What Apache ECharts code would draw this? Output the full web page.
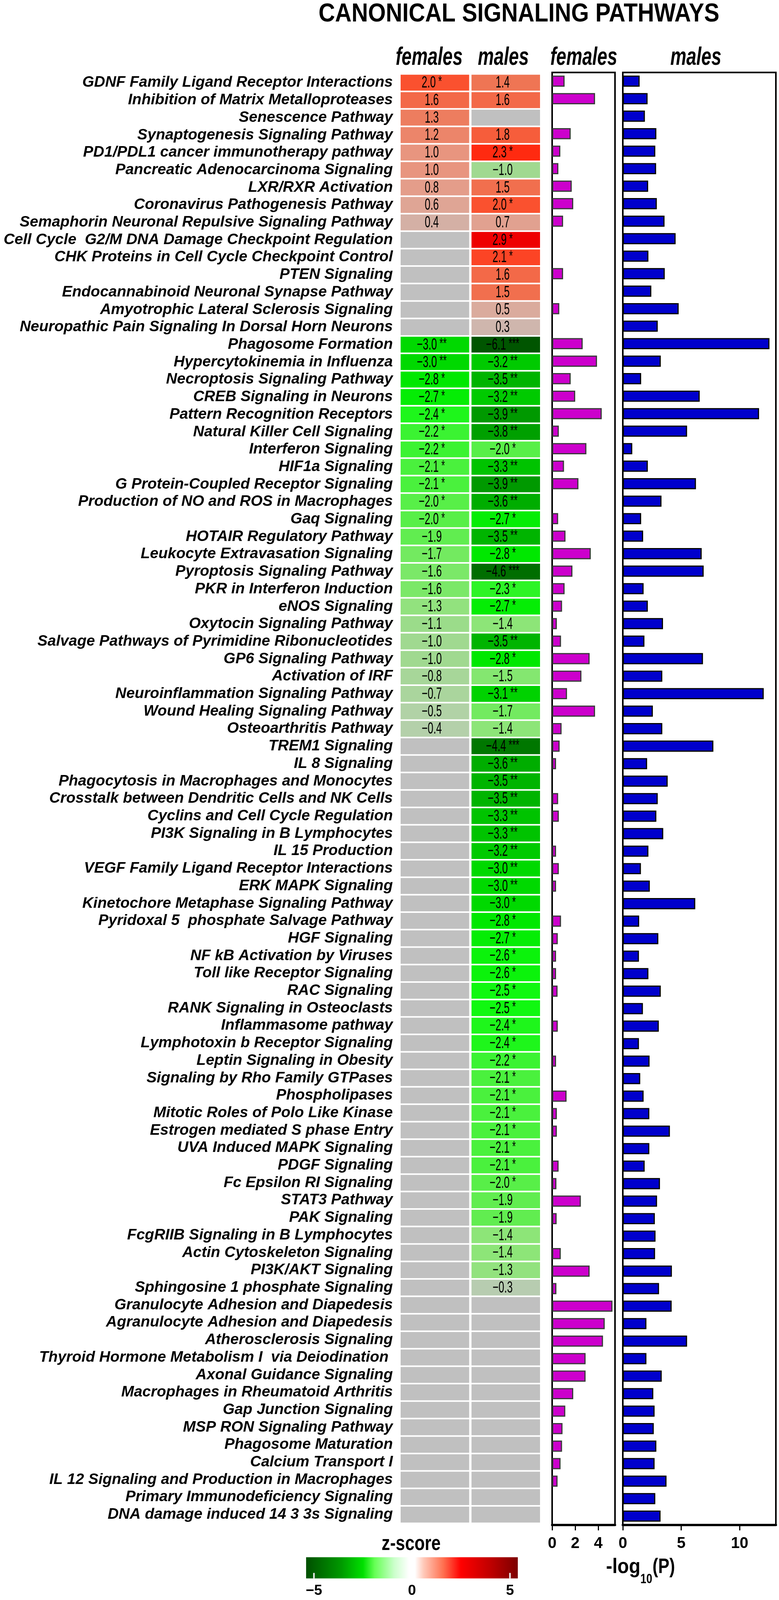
<!DOCTYPE html>
<html><head><meta charset="utf-8">
<script src="https://cdn.jsdelivr.net/npm/echarts@6/dist/echarts.min.js"></script>
<style>html,body{margin:0;padding:0;background:#fff;overflow:hidden}#c{width:1995px;height:4153px}</style>
</head><body><div id="c"></div>
<script>
const categories = [
"GDNF Family Ligand Receptor Interactions",
"Inhibition of Matrix Metalloproteases",
"Senescence Pathway",
"Synaptogenesis Signaling Pathway",
"PD1/PDL1 cancer immunotherapy pathway",
"Pancreatic Adenocarcinoma Signaling",
"LXR/RXR Activation",
"Coronavirus Pathogenesis Pathway",
"Semaphorin Neuronal Repulsive Signaling Pathway",
"Cell Cycle  G2/M DNA Damage Checkpoint Regulation",
"CHK Proteins in Cell Cycle Checkpoint Control",
"PTEN Signaling",
"Endocannabinoid Neuronal Synapse Pathway",
"Amyotrophic Lateral Sclerosis Signaling",
"Neuropathic Pain Signaling In Dorsal Horn Neurons",
"Phagosome Formation",
"Hypercytokinemia in Influenza",
"Necroptosis Signaling Pathway",
"CREB Signaling in Neurons",
"Pattern Recognition Receptors",
"Natural Killer Cell Signaling",
"Interferon Signaling",
"HIF1a Signaling",
"G Protein-Coupled Receptor Signaling",
"Production of NO and ROS in Macrophages",
"Gaq Signaling",
"HOTAIR Regulatory Pathway",
"Leukocyte Extravasation Signaling",
"Pyroptosis Signaling Pathway",
"PKR in Interferon Induction",
"eNOS Signaling",
"Oxytocin Signaling Pathway",
"Salvage Pathways of Pyrimidine Ribonucleotides",
"GP6 Signaling Pathway",
"Activation of IRF",
"Neuroinflammation Signaling Pathway",
"Wound Healing Signaling Pathway",
"Osteoarthritis Pathway",
"TREM1 Signaling",
"IL 8 Signaling",
"Phagocytosis in Macrophages and Monocytes",
"Crosstalk between Dendritic Cells and NK Cells",
"Cyclins and Cell Cycle Regulation",
"PI3K Signaling in B Lymphocytes",
"IL 15 Production",
"VEGF Family Ligand Receptor Interactions",
"ERK MAPK Signaling",
"Kinetochore Metaphase Signaling Pathway",
"Pyridoxal 5  phosphate Salvage Pathway",
"HGF Signaling",
"NF kB Activation by Viruses",
"Toll like Receptor Signaling",
"RAC Signaling",
"RANK Signaling in Osteoclasts",
"Inflammasome pathway",
"Lymphotoxin b Receptor Signaling",
"Leptin Signaling in Obesity",
"Signaling by Rho Family GTPases",
"Phospholipases",
"Mitotic Roles of Polo Like Kinase",
"Estrogen mediated S phase Entry",
"UVA Induced MAPK Signaling",
"PDGF Signaling",
"Fc Epsilon RI Signaling",
"STAT3 Pathway",
"PAK Signaling",
"FcgRIIB Signaling in B Lymphocytes",
"Actin Cytoskeleton Signaling",
"PI3K/AKT Signaling",
"Sphingosine 1 phosphate Signaling",
"Granulocyte Adhesion and Diapedesis",
"Agranulocyte Adhesion and Diapedesis",
"Atherosclerosis Signaling",
"Thyroid Hormone Metabolism I  via Deiodination ",
"Axonal Guidance Signaling",
"Macrophages in Rheumatoid Arthritis",
"Gap Junction Signaling",
"MSP RON Signaling Pathway",
"Phagosome Maturation",
"Calcium Transport I",
"IL 12 Signaling and Production in Macrophages",
"Primary Immunodeficiency Signaling",
"DNA damage induced 14 3 3s Signaling"
];

const columns = ["females", "males"];

const femaleZ = [
2.0, 1.6, 1.3, 1.2, 1.0, 1.0, 0.8, 0.6, 0.4, null, null, null, null, null, null,
-3.0, -3.0, -2.8, -2.7, -2.4, -2.2, -2.2, -2.1, -2.1, -2.0, -2.0, -1.9, -1.7, -1.6, -1.6, -1.3, -1.1, -1.0, -1.0, -0.8, -0.7, -0.5, -0.4,
null, null, null, null, null, null, null, null, null, null, null, null, null, null, null, null,
null, null, null, null, null, null, null, null, null, null, null, null, null, null, null, null,
null, null, null, null, null, null, null, null, null, null, null, null, null
];
const femaleStars = [
1,0,0,0,0,0,0,0,0,0,0,0,0,0,0,
2,2,1,1,1,1,1,1,1,1,1,0,0,0,0,0,0,0,0,0,0,0,0,
0,0,0,0,0,0,0,0,0,0,0,0,0,0,0,0,
0,0,0,0,0,0,0,0,0,0,0,0,0,0,0,0,
0,0,0,0,0,0,0,0,0,0,0,0,0
];
const maleZ = [
1.4, 1.6, null, 1.8, 2.3, -1.0, 1.5, 2.0, 0.7, 2.9, 2.1, 1.6, 1.5, 0.5, 0.3,
-6.1, -3.2, -3.5, -3.2, -3.9, -3.8, -2.0, -3.3, -3.9, -3.6, -2.7, -3.5, -2.8, -4.6, -2.3, -2.7, -1.4, -3.5, -2.8, -1.5, -3.1, -1.7, -1.4,
-4.4, -3.6, -3.5, -3.5, -3.3, -3.3, -3.2, -3.0, -3.0, -3.0, -2.8, -2.7, -2.6, -2.6, -2.5, -2.5,
-2.4, -2.4, -2.2, -2.1, -2.1, -2.1, -2.1, -2.1, -2.1, -2.0, -1.9, -1.9, -1.4, -1.4, -1.3, -0.3,
null, null, null, null, null, null, null, null, null, null, null, null, null
];
const maleStars = [
0,0,0,0,1,0,0,1,0,1,1,0,0,0,0,
3,2,2,2,2,2,1,2,2,2,1,2,1,3,1,1,0,2,1,0,2,0,0,
3,2,2,2,2,2,2,2,2,1,1,1,1,1,1,1,
1,1,1,1,1,1,1,1,1,1,0,0,0,0,0,0,
0,0,0,0,0,0,0,0,0,0,0,0,0
];

const femaleLogP = [
1.08, 3.72, null, 1.61, 0.71, 0.54, 1.70, 1.83, 0.95, null, null, 0.95, null, 0.62, null,
2.65, 3.89, 1.61, 2.00, 4.30, 0.58, 2.97, 1.03, 2.28, null, 0.52, 1.16, 3.35, 1.76, 1.08, 0.86, 0.41, 0.77, 3.25, 2.54, 1.29, 3.72, 0.82,
0.65, 0.34, null, 0.52, 0.58, null, 0.34, 0.58, 0.34, null, 0.77, 0.49, 0.34, 0.34, 0.47, null,
0.49, null, 0.34, null, 1.25, 0.41, 0.41, null, 0.56, 0.37, 2.49, 0.39, null, 0.75, 3.25, 0.37,
5.23, 4.56, 4.41, 2.90, 2.90, 1.83, 1.14, 0.90, 0.86, 0.73, 0.47, null, null
];
const maleLogP = [
1.44, 2.12, 1.89, 2.87, 2.78, 2.85, 2.17, 2.91, 3.57, 4.52, 2.19, 3.59, 2.44, 4.78, 2.99,
12.55, 3.25, 1.57, 6.58, 11.66, 5.50, 0.81, 2.14, 6.26, 3.31, 1.57, 1.74, 6.75, 6.92, 1.78, 2.14, 3.44, 1.85, 6.86, 3.38, 12.06, 2.57, 3.38,
7.75, 2.08, 3.84, 2.99, 2.87, 3.46, 2.19, 1.55, 2.31, 6.20, 1.40, 3.04, 1.38, 2.19, 3.25, 1.72,
3.08, 1.38, 2.29, 1.49, 1.78, 2.27, 4.03, 2.27, 1.87, 3.18, 2.93, 2.74, 2.80, 2.76, 4.20, 3.10,
4.18, 2.02, 5.50, 2.02, 3.33, 2.61, 2.72, 2.65, 2.87, 2.72, 3.74, 2.78, 3.23
];

const femaleTicks = [0, 2, 4];
const maleTicks = [0, 5, 10];
const zTicks = [-5, 0, 5];
const zBarRange = [-5.4, 5.4];

const SANS = '"Liberation Sans", Arial, Helvetica, sans-serif';

// fit the 4153px-tall design into the actual viewport height
const VH = window.innerHeight || 4153;
const sy = Math.min(1, VH / 4153);
const Y = v => v * sy;
document.getElementById('c').style.height = VH + 'px';

// cell colour scale (style)
const zStops = [
  [-6.1, [0, 85, 0]], [-4.5, [0, 112, 0]], [-3.5, [0, 180, 0]], [-2.8, [0, 232, 0]],
  [-2.5, [16, 248, 16]], [-2.0, [88, 239, 72]], [-1.4, [141, 229, 120]], [-1.0, [160, 217, 144]],
  [-0.4, [180, 208, 170]], [0, [192, 192, 192]], [0.3, [207, 182, 173]], [0.6, [223, 165, 149]],
  [1.0, [232, 149, 127]], [1.4, [239, 117, 84]], [2.0, [250, 81, 47]], [2.3, [255, 42, 16]], [2.9, [238, 0, 0]]
];
function zColor(z) {
  if (z <= zStops[0][0]) return 'rgb(' + zStops[0][1].join(',') + ')';
  for (let i = 1; i < zStops.length; i++) {
    if (z <= zStops[i][0]) {
      const a = zStops[i - 1], b = zStops[i];
      const t = (z - a[0]) / (b[0] - a[0]);
      const c = a[1].map((v, k) => Math.round(v + (b[1][k] - v) * t));
      return 'rgb(' + c.join(',') + ')';
    }
  }
  return 'rgb(' + zStops[zStops.length - 1][1].join(',') + ')';
}
function fmt(z) {
  const s = Math.abs(z).toFixed(1);
  return z < 0 ? '\u2212' + s : s;
}

const cellData = [];
categories.forEach((name, r) => { cellData.push([0, r]); cellData.push([1, r]); });

const chart = echarts.init(document.getElementById('c'), null, { renderer: 'canvas' });

const rowTop = Y(192), rowH = Y(3762);
const barTop = Y(188), barH = Y(3770);

function txt(text, x, y, size, opts) {
  return Object.assign({ type: 'text', x: x, y: Y(y), scaleX: 1,
    style: { text: text, fontSize: size, fontWeight: 'bold', fontFamily: SANS, fill: '#000', align: 'center', verticalAlign: 'middle' } }, opts || {});
}
function styled(el, extra) { Object.assign(el.style, extra); return el; }

const option = {
  animation: false,
  backgroundColor: '#fff',
  grid: [
    { left: 1023, top: rowTop, width: 363, height: rowH },
    { left: 1414, top: barTop, width: 161, height: barH, show: true, borderColor: '#000', borderWidth: 4, backgroundColor: 'transparent' },
    { left: 1595, top: barTop, width: 392, height: barH, show: true, borderColor: '#000', borderWidth: 4, backgroundColor: 'transparent' },
    { left: 804, top: Y(4042), width: 502, height: Y(55) }
  ],
  xAxis: [
    { gridIndex: 0, type: 'category', data: columns, show: false },
    { gridIndex: 1, type: 'value', min: 0, max: 5.45, interval: 2, position: 'bottom',
      axisLine: { show: true, onZero: false, lineStyle: { color: '#000', width: 6 } },
      axisTick: { show: true, length: 14, lineStyle: { color: '#000', width: 3 }, customValues: femaleTicks },
      axisLabel: { customValues: femaleTicks, fontSize: 40, fontWeight: 'bold', fontFamily: SANS, color: '#000', margin: 28,
        formatter: v => (femaleTicks.indexOf(v) >= 0 ? String(v) : '') },
      splitLine: { show: false } },
    { gridIndex: 2, type: 'value', min: 0, max: 13.1, interval: 5, position: 'bottom',
      axisLine: { show: true, onZero: false, lineStyle: { color: '#000', width: 6 } },
      axisTick: { show: true, length: 14, lineStyle: { color: '#000', width: 3 }, customValues: maleTicks },
      axisLabel: { customValues: maleTicks, fontSize: 40, fontWeight: 'bold', fontFamily: SANS, color: '#000', margin: 28,
        formatter: v => (maleTicks.indexOf(v) >= 0 ? String(v) : '') },
      splitLine: { show: false } },
    { gridIndex: 3, type: 'value', min: zTicks[0], max: zTicks[2], interval: 5,
      axisLine: { show: false }, axisTick: { show: false }, splitLine: { show: false },
      axisLabel: { fontSize: 37, fontWeight: 'bold', fontFamily: SANS, color: '#000', margin: 14,
        formatter: v => (v < 0 ? '\u2212' + Math.abs(v) : String(v)) } }
  ],
  yAxis: [
    { gridIndex: 0, type: 'category', data: categories, inverse: true,
      axisLine: { show: false }, axisTick: { show: false },
      axisLabel: { interval: 0, fontSize: 39, fontWeight: 'bold', fontStyle: 'italic', fontFamily: SANS, color: '#000', margin: 17 } },
    { gridIndex: 1, type: 'category', data: categories, inverse: true, axisLine: { show: false }, axisTick: { show: false }, axisLabel: { show: false } },
    { gridIndex: 2, type: 'category', data: categories, inverse: true, axisLine: { show: false }, axisTick: { show: false }, axisLabel: { show: false } },
    { gridIndex: 3, type: 'value', min: 0, max: 1, show: false }
  ],
  series: [
    {
      type: 'custom', xAxisIndex: 0, yAxisIndex: 0, data: cellData,
      encode: { x: 0, y: 1 },
      renderItem: function (params, api) {
        const c = api.value(0), r = api.value(1);
        const z = (c === 0 ? femaleZ : maleZ)[r];
        const st = (c === 0 ? femaleStars : maleStars)[r];
        const p = api.coord([c, r]);
        const s = api.size([1, 1]);
        const w = s[0] - 6, h = s[1] - 4;
        const children = [{
          type: 'rect',
          shape: { x: p[0] - w / 2, y: p[1] - h / 2, width: w, height: h },
          style: { fill: z == null ? '#c0c0c0' : zColor(z) }
        }];
        if (z != null) {
          let t = '{n|' + fmt(z) + '}';
          if (st > 0) t += '{s| ' + '*'.repeat(st) + '}';
          children.push({
            type: 'text', x: p[0] - 8, y: p[1] + 1, scaleX: 0.62, scaleY: 1,
            style: {
              text: t, x: 0, y: 0, align: 'center', verticalAlign: 'middle',
              fill: '#000',
              rich: {
                n: { fontSize: 42, fontFamily: SANS, fill: '#000' },
                s: { fontSize: 38, fontFamily: SANS, fill: '#000', verticalAlign: 'top' }
              }
            }
          });
        }
        return { type: 'group', children: children };
      }
    },
    {
      type: 'bar', xAxisIndex: 1, yAxisIndex: 1, data: femaleLogP, barWidth: Y(29),
      itemStyle: { color: '#cc00cc', borderColor: '#3a3a3a', borderWidth: 3 }
    },
    {
      type: 'bar', xAxisIndex: 2, yAxisIndex: 2, data: maleLogP, barWidth: Y(29),
      itemStyle: { color: '#0000cc', borderColor: '#000', borderWidth: 3 }
    },
    {
      type: 'custom', xAxisIndex: 3, yAxisIndex: 3, data: [[zBarRange[0], zBarRange[1]]],
      clip: false,
      renderItem: function (params, api) {
        const p0 = api.coord([api.value(0), 1]);
        const p1 = api.coord([api.value(1), 0]);
        const tL = api.coord([zTicks[0], 0]);
        const tR = api.coord([zTicks[2], 0]);
        const th = (p1[1] - p0[1]) * 0.26;
        return {
          type: 'group',
          children: [
            {
              type: 'rect',
              shape: { x: p0[0], y: p0[1], width: p1[0] - p0[0], height: p1[1] - p0[1] },
              style: {
                fill: new echarts.graphic.LinearGradient(0, 0, 1, 0, [
                  { offset: 0, color: '#004f00' }, { offset: 0.167, color: '#009a00' },
                  { offset: 0.269, color: '#00e000' }, { offset: 0.324, color: '#66ff55' },
                  { offset: 0.417, color: '#ccffcc' }, { offset: 0.486, color: '#ffffff' },
                  { offset: 0.514, color: '#ffffff' }, { offset: 0.556, color: '#ffc8b8' },
                  { offset: 0.648, color: '#ff7050' }, { offset: 0.731, color: '#ff0000' },
                  { offset: 0.87, color: '#c00000' }, { offset: 1, color: '#7c0000' }
                ])
              }
            },
            { type: 'rect', shape: { x: tL[0] - 2, y: tL[1] - th, width: 4, height: th }, style: { fill: '#e8e8e8' } },
            { type: 'rect', shape: { x: tR[0] - 2, y: tR[1] - th, width: 4, height: th }, style: { fill: '#e8e8e8' } }
          ]
        };
      }
    }
  ],
  graphic: [
    txt('CANONICAL SIGNALING PATHWAYS', 1329, 37, 66, { scaleX: 0.887 }),
    styled(txt(columns[0], 1099, 150, 64, { scaleX: 0.72 }), { fontStyle: 'italic' }),
    styled(txt(columns[1], 1289, 150, 64, { scaleX: 0.72 }), { fontStyle: 'italic' }),
    styled(txt(columns[0], 1495, 150, 64, { scaleX: 0.72 }), { fontStyle: 'italic' }),
    styled(txt(columns[1], 1782, 150, 64, { scaleX: 0.72 }), { fontStyle: 'italic' }),
    txt('z-score', 1053, 4008, 54, { scaleX: 0.8 }),
    styled(txt('-log', 1552, 4068, 54, { scaleX: 0.89 }), { align: 'left' }),
    styled(txt('10', 1640, 4100, 35, { scaleX: 0.78 }), { align: 'left' }),
    styled(txt('(P)', 1671, 4068, 54, { scaleX: 0.8 }), { align: 'left' })
  ]
};
chart.setOption(option);
</script>
</body></html>
